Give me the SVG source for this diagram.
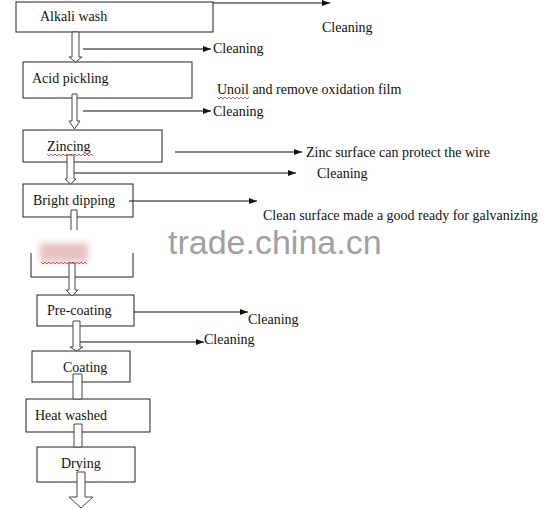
<svg xmlns="http://www.w3.org/2000/svg" width="549" height="509" viewBox="0 0 549 509">
<style>
.box{fill:#fff;stroke:#222;stroke-width:1}
.t{font-family:"Liberation Serif","Times New Roman",serif;font-size:14px;fill:#111}
.ln{stroke:#111;stroke-width:1;fill:none}
.ha{fill:#fff;stroke:#444;stroke-width:1}
.sq{fill:none;stroke:#d03030;stroke-width:0.8}
.wm{font-family:"Liberation Sans",Arial,sans-serif;font-size:34px;fill:#a0a0a0}
</style>
<defs>
<marker id="ah" markerWidth="8" markerHeight="6" refX="8" refY="3" orient="auto" markerUnits="userSpaceOnUse">
<path d="M0,0 L8,3 L0,6 Z" fill="#111"/>
</marker>
<filter id="bl" x="-30%" y="-30%" width="160%" height="160%"><feGaussianBlur stdDeviation="3.5"/></filter>
</defs>
<rect width="549" height="509" fill="#fff"/>

<g id="alkali-wash">
<rect class="box" x="16" y="2" width="197" height="30"/>
<text class="t" x="40" y="21">Alkali wash</text>
</g>
<g id="acid-pickling">
<rect class="box" x="23" y="62" width="169" height="36"/>
<text class="t" x="32" y="83">Acid pickling</text>
</g>
<g id="zincing">
<rect class="box" x="23" y="130" width="139" height="32"/>
<text class="t" x="47" y="151">Zincing</text>
<path class="sq" d="M47,154 l2,2 l2,-2 l2,2 l2,-2 l2,2 l2,-2 l2,2 l2,-2 l2,2 l2,-2 l2,2 l2,-2 l2,2 l2,-2 l2,2 l2,-2 l2,2 l2,-2 l2,2 l2,-2 l2,2 l2,-2 l2,2"/>
</g>
<g id="bright-dipping">
<rect class="box" x="23" y="184" width="110" height="33"/>
<text class="t" x="33" y="205">Bright dipping</text>
</g>
<g id="hidden-step">
<path class="ln" d="M31,253 V277 H133 V253" style="stroke:#222"/>
<rect x="40" y="243" width="48" height="19" fill="#e6c0c0" filter="url(#bl)"/>
<path class="sq" d="M41,262 l2,2 l2,-2 l2,2 l2,-2 l2,2 l2,-2 l2,2 l2,-2 l2,2 l2,-2 l2,2 l2,-2 l2,2 l2,-2 l2,2 l2,-2 l2,2 l2,-2 l2,2 l2,-2 l2,2 l2,-2 l2,2"/>
</g>
<g id="pre-coating">
<rect class="box" x="37" y="295" width="97" height="31"/>
<text class="t" x="47" y="315">Pre-coating</text>
</g>
<g id="coating">
<rect class="box" x="32" y="351" width="98" height="31"/>
<text class="t" x="63" y="372">Coating</text>
</g>
<g id="heat-washed">
<rect class="box" x="26" y="399" width="124" height="33"/>
<text class="t" x="35" y="420">Heat washed</text>
</g>
<g id="drying">
<rect class="box" x="37" y="447" width="98" height="35"/>
<text class="t" x="61" y="468">Drying</text>
</g>

<g id="connectors">
<line class="ln" x1="213" y1="3" x2="330" y2="3" marker-end="url(#ah)"/>
<line class="ln" x1="83" y1="49" x2="211" y2="49" marker-end="url(#ah)"/>
<line class="ln" x1="83" y1="111" x2="211" y2="111" marker-end="url(#ah)"/>
<line class="ln" x1="175" y1="152" x2="302" y2="152" marker-end="url(#ah)"/>
<line class="ln" x1="74" y1="173" x2="296" y2="173" marker-end="url(#ah)"/>
<line class="ln" x1="129" y1="201" x2="257" y2="201" marker-end="url(#ah)"/>
<line class="ln" x1="134" y1="312" x2="248" y2="312" marker-end="url(#ah)"/>
<line class="ln" x1="80" y1="342" x2="204" y2="342" marker-end="url(#ah)"/>
<polygon class="ha" points="72,32 79,32 79,57 82,57 75.5,62 69,57 72,57"/>
<polygon class="ha" points="72,94 77,94 77,121 80,121 74.5,129 69,121 72,121"/>
<polygon class="ha" points="67,155 74,155 74,179 76,179 70.5,184 65,179 67,179"/>
<polyline class="ha" points="71,230 71,210 77,210 77,230"/>
<polygon class="ha" points="69,263 75,263 75,290 78,290 72,296 66,290 69,290"/>
<polygon class="ha" points="73,321 80,321 80,347 83,347 76.5,351 70,347 73,347"/>
<polygon class="ha" points="73,374 82,374 82,399 73,399"/>
<polygon class="ha" points="74,424 82,424 82,447 74,447"/>
<polygon class="ha" points="77,472 85,472 85,497 93,497 81,508 69,497 77,497"/>
</g>

<g id="labels">
<text class="t" x="322" y="32">Cleaning</text>
<text class="t" x="213" y="53">Cleaning</text>
<text class="t" x="217" y="94">Unoil and remove oxidation film</text>
<path class="sq" d="M217,97 l2,2 l2,-2 l2,2 l2,-2 l2,2 l2,-2 l2,2 l2,-2 l2,2 l2,-2 l2,2 l2,-2 l2,2 l2,-2 l2,2 l2,-2"/>
<text class="t" x="213" y="116">Cleaning</text>
<text class="t" x="306" y="157">Zinc surface can protect the wire</text>
<text class="t" x="317" y="178">Cleaning</text>
<text class="t" x="263" y="220">Clean surface made a good ready for galvanizing</text>
<text class="t" x="248" y="324">Cleaning</text>
<text class="t" x="204" y="344">Cleaning</text>
</g>
<text class="wm" x="168" y="254">trade.china.cn</text>
</svg>
